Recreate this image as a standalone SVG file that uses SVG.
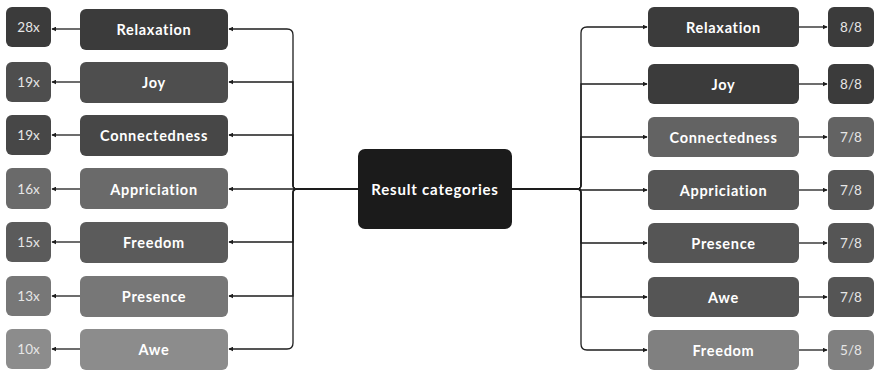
<svg xmlns="http://www.w3.org/2000/svg" width="877" height="373" viewBox="0 0 877 373">
<style>
.lbl{font-family:Lato,"Open Sans","Liberation Sans",sans-serif;font-weight:700;font-size:14.5px;fill:#ffffff;text-anchor:middle;dominant-baseline:central;letter-spacing:0.7px}
.big{font-size:15px;letter-spacing:0.8px}
.cnt{font-family:Lato,"Open Sans","Liberation Sans",sans-serif;font-weight:400;font-size:13.5px;fill:#e6e6e6;text-anchor:middle;dominant-baseline:central}
.ln{fill:none;stroke:#1e1e1e;stroke-width:1.3}
</style>
<defs>
<marker id="ah" viewBox="0 0 8 8" refX="7" refY="4" markerWidth="5" markerHeight="5" orient="auto" markerUnits="userSpaceOnUse"><path d="M0,0 L8,4 L0,8 z" fill="#1e1e1e"/></marker>
</defs>
<rect width="877" height="373" fill="#ffffff"/>
<g id="connectors">
<path class="ln" marker-end="url(#ah)" d="M358 189 H297 Q293 189 293 185 V35 Q293 29 287 29 H229"/>
<path class="ln" marker-end="url(#ah)" d="M358 189 H297 Q293 189 293 185 V82 H229"/>
<path class="ln" marker-end="url(#ah)" d="M358 189 H297 Q293 189 293 185 V135 H229"/>
<path class="ln" marker-end="url(#ah)" d="M358 189 H229"/>
<path class="ln" marker-end="url(#ah)" d="M358 189 H297 Q293 189 293 193 V242 H229"/>
<path class="ln" marker-end="url(#ah)" d="M358 189 H297 Q293 189 293 193 V296 H229"/>
<path class="ln" marker-end="url(#ah)" d="M358 189 H297 Q293 189 293 193 V343 Q293 349 287 349 H229"/>
<path class="ln" marker-end="url(#ah)" d="M80 29 H52"/>
<path class="ln" marker-end="url(#ah)" d="M80 82 H52"/>
<path class="ln" marker-end="url(#ah)" d="M80 135 H52"/>
<path class="ln" marker-end="url(#ah)" d="M80 189 H52"/>
<path class="ln" marker-end="url(#ah)" d="M80 242 H52"/>
<path class="ln" marker-end="url(#ah)" d="M80 296 H52"/>
<path class="ln" marker-end="url(#ah)" d="M80 349 H52"/>
<path class="ln" marker-end="url(#ah)" d="M512 189 H577 Q581 189 581 185 V33 Q581 27 587 27 H647"/>
<path class="ln" marker-end="url(#ah)" d="M512 189 H577 Q581 189 581 185 V84 H647"/>
<path class="ln" marker-end="url(#ah)" d="M512 189 H577 Q581 189 581 185 V137 H647"/>
<path class="ln" marker-end="url(#ah)" d="M512 189 H577 Q581 189 581 190 H647"/>
<path class="ln" marker-end="url(#ah)" d="M512 189 H577 Q581 189 581 193 V243 H647"/>
<path class="ln" marker-end="url(#ah)" d="M512 189 H577 Q581 189 581 193 V297 H647"/>
<path class="ln" marker-end="url(#ah)" d="M512 189 H577 Q581 189 581 193 V344 Q581 350 587 350 H647"/>
<path class="ln" marker-end="url(#ah)" d="M799 27 H827"/>
<path class="ln" marker-end="url(#ah)" d="M799 84 H827"/>
<path class="ln" marker-end="url(#ah)" d="M799 137 H827"/>
<path class="ln" marker-end="url(#ah)" d="M799 190 H827"/>
<path class="ln" marker-end="url(#ah)" d="M799 243 H827"/>
<path class="ln" marker-end="url(#ah)" d="M799 297 H827"/>
<path class="ln" marker-end="url(#ah)" d="M799 350 H827"/>
</g>
<g id="center"><rect x="358" y="149" width="154" height="80" rx="7" fill="#1b1b1b"/><text class="lbl big" x="435" y="189">Result categories</text></g>
<g id="L-relaxation"><rect x="80" y="9" width="148" height="41" rx="6" fill="#3b3b3b"/><text class="lbl" x="154" y="29.5">Relaxation</text></g>
<g id="L-joy"><rect x="80" y="62" width="148" height="41" rx="6" fill="#4e4e4e"/><text class="lbl" x="154" y="82.5">Joy</text></g>
<g id="L-connectedness"><rect x="80" y="115" width="148" height="41" rx="6" fill="#474747"/><text class="lbl" x="154" y="135.5">Connectedness</text></g>
<g id="L-appriciation"><rect x="80" y="168" width="148" height="41" rx="6" fill="#6a6a6a"/><text class="lbl" x="154" y="189">Appriciation</text></g>
<g id="L-freedom"><rect x="80" y="222" width="148" height="41" rx="6" fill="#5b5b5b"/><text class="lbl" x="154" y="242.5">Freedom</text></g>
<g id="L-presence"><rect x="80" y="276" width="148" height="41" rx="6" fill="#777777"/><text class="lbl" x="154" y="296.5">Presence</text></g>
<g id="L-awe"><rect x="80" y="329" width="148" height="41" rx="6" fill="#8c8c8c"/><text class="lbl" x="154" y="349.5">Awe</text></g>
<g id="L-c1"><rect x="6" y="7" width="45" height="40" rx="6" fill="#3b3b3b"/><text class="cnt" x="28.5" y="27">28x</text></g>
<g id="L-c2"><rect x="6" y="62" width="45" height="40" rx="6" fill="#4e4e4e"/><text class="cnt" x="28.5" y="82">19x</text></g>
<g id="L-c3"><rect x="6" y="115" width="45" height="40" rx="6" fill="#474747"/><text class="cnt" x="28.5" y="135">19x</text></g>
<g id="L-c4"><rect x="6" y="168" width="45" height="41" rx="6" fill="#6a6a6a"/><text class="cnt" x="28.5" y="188.5">16x</text></g>
<g id="L-c5"><rect x="6" y="222" width="45" height="40" rx="6" fill="#5b5b5b"/><text class="cnt" x="28.5" y="242">15x</text></g>
<g id="L-c6"><rect x="6" y="276" width="45" height="40" rx="6" fill="#777777"/><text class="cnt" x="28.5" y="296">13x</text></g>
<g id="L-c7"><rect x="6" y="329" width="45" height="40" rx="6" fill="#8c8c8c"/><text class="cnt" x="28.5" y="349">10x</text></g>
<g id="R-relaxation"><rect x="648" y="7" width="151" height="40" rx="6" fill="#3b3b3b"/><text class="lbl" x="723.5" y="27">Relaxation</text></g>
<g id="R-joy"><rect x="648" y="64" width="151" height="40" rx="6" fill="#3b3b3b"/><text class="lbl" x="723.5" y="84">Joy</text></g>
<g id="R-connectedness"><rect x="648" y="117" width="151" height="40" rx="6" fill="#636363"/><text class="lbl" x="723.5" y="137">Connectedness</text></g>
<g id="R-appriciation"><rect x="648" y="170" width="151" height="40" rx="6" fill="#555555"/><text class="lbl" x="723.5" y="190">Appriciation</text></g>
<g id="R-presence"><rect x="648" y="223" width="151" height="40" rx="6" fill="#555555"/><text class="lbl" x="723.5" y="243">Presence</text></g>
<g id="R-awe"><rect x="648" y="277" width="151" height="40" rx="6" fill="#555555"/><text class="lbl" x="723.5" y="297">Awe</text></g>
<g id="R-freedom"><rect x="648" y="330" width="151" height="40" rx="6" fill="#808080"/><text class="lbl" x="723.5" y="350">Freedom</text></g>
<g id="R-c1"><rect x="828" y="7" width="46" height="40" rx="6" fill="#3b3b3b"/><text class="cnt" x="851" y="27">8/8</text></g>
<g id="R-c2"><rect x="828" y="64" width="46" height="40" rx="6" fill="#3b3b3b"/><text class="cnt" x="851" y="84">8/8</text></g>
<g id="R-c3"><rect x="828" y="117" width="46" height="40" rx="6" fill="#636363"/><text class="cnt" x="851" y="137">7/8</text></g>
<g id="R-c4"><rect x="828" y="170" width="46" height="40" rx="6" fill="#555555"/><text class="cnt" x="851" y="190">7/8</text></g>
<g id="R-c5"><rect x="828" y="223" width="46" height="40" rx="6" fill="#555555"/><text class="cnt" x="851" y="243">7/8</text></g>
<g id="R-c6"><rect x="828" y="277" width="46" height="40" rx="6" fill="#555555"/><text class="cnt" x="851" y="297">7/8</text></g>
<g id="R-c7"><rect x="828" y="330" width="46" height="40" rx="6" fill="#808080"/><text class="cnt" x="851" y="350">5/8</text></g>
</svg>
